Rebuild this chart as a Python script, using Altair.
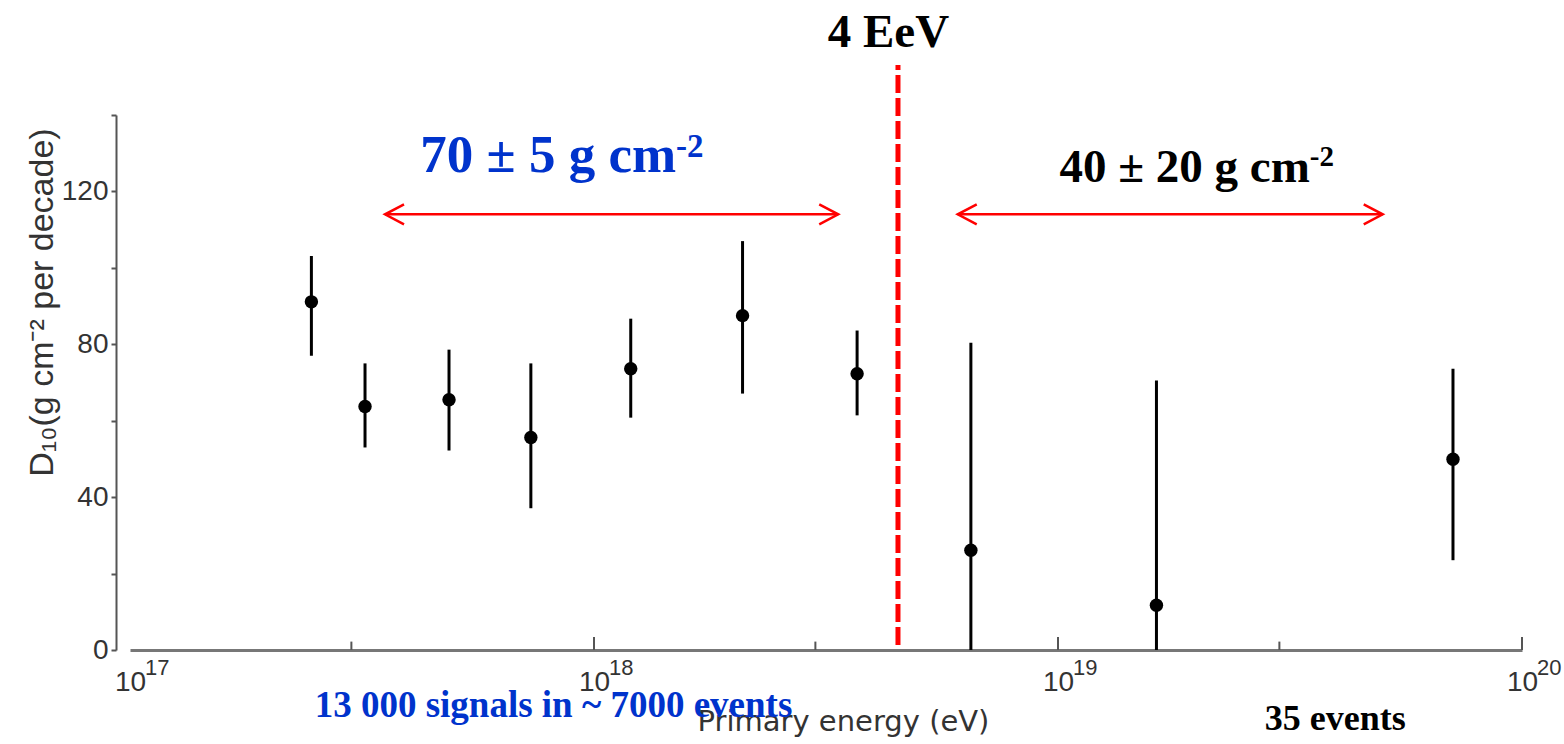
import altair as alt
import pandas as pd

# ---- data ----
energy = [2.46e17, 3.21e17, 4.87e17, 7.31e17, 1.20e18, 2.09e18, 3.69e18, 6.49e18, 1.63e19, 7.10e19]
d10 = [91.1, 63.7, 65.5, 55.6, 73.6, 87.5, 72.3, 26.1, 11.7, 49.9]
d10_lo = [77.0, 53.0, 52.2, 37.1, 60.8, 67.1, 61.4, 0.0, 0.0, 23.5]
d10_hi = [103.1, 75.0, 78.6, 75.0, 86.7, 107.0, 83.6, 80.4, 70.5, 73.6]

decades = [1e17, 1e18, 1e19, 1e20]
exponents = ["17", "18", "19", "20"]
major_ticks = [1e18, 1e19, 1e20]
minor_ticks = [3e17, 3e18, 3e19]
y_ticks = [0, 20, 40, 60, 80, 100, 120, 140]

threshold_energy = [4.52e18]
threshold_label = ["4 EeV"]
range_start = [3.545e17, 6.08e18]
range_end = [3.36e18, 5.01e19]
range_level = [114, 114]

low_text = ["70 ± 5 g cm", "-2"]
high_text = ["40 ± 20 g cm", "-2"]
low_stats = ["13 000 signals in ~ 7000 events"]
high_stats = ["35 events"]

BLUE = "#0033CC"
RED = "#FF0000"
GRAY = "#333333"

xscale = alt.Scale(type="log", domain=[1e17, 1e20], nice=False)
yscale = alt.Scale(domain=[0, 140], nice=False, zero=False)

x_axis = alt.Axis(
    values=decades, labelExpr="'10'", ticks=False, tickSize=0, grid=False,
    domainColor="#777777", domainWidth=3,
    labelFont="Liberation Sans", labelFontSize=28, labelColor=GRAY,
    labelPadding=18, labelBaseline="top", labelFlush=False,
    title="Primary energy (eV)", titleFont="DejaVu Sans", titleFontSize=29,
    titleFontWeight="normal", titleColor=GRAY, titleX=713, titleY=80,
    titleAlign="center", titleBaseline="alphabetic",
)
y_axis = alt.Axis(
    values=y_ticks, labelExpr="datum.value % 40 == 0 ? datum.value : ''",
    grid=False, offset=14, domainColor="#555555", domainWidth=2,
    tickColor="#555555", tickWidth=2, tickSize=5,
    labelFont="Liberation Sans", labelFontSize=28, labelColor=GRAY, labelPadding=3,
    labelFlush=False,
    title="D₁₀(g cm⁻² per decade)", titleFont="Liberation Sans", titleFontSize=34,
    titleFontWeight="normal", titleColor=GRAY, titleAngle=270,
    titleX=-64, titleY=187, titleAlign="center", titleBaseline="alphabetic",
)


def X(f):
    return alt.X(f, type="quantitative", scale=xscale, axis=x_axis)


def Y(f):
    return alt.Y(f, type="quantitative", scale=yscale, axis=y_axis)


df = pd.DataFrame({"energy": energy, "d10": d10, "lo": d10_lo, "hi": d10_hi})

errbars = alt.Chart(df).mark_rule(color="black", strokeWidth=3).encode(
    x=X("energy"), y=Y("lo"), y2="hi:Q",
)
points = alt.Chart(df).mark_circle(size=180, color="black", opacity=1).encode(
    x=X("energy"), y=Y("d10"),
)

tick_df = pd.DataFrame({
    "energy": major_ticks + minor_ticks,
    "lo": [0] * 6,
    "hi": [3.4] * 3 + [2.2] * 3,
})
xticks = alt.Chart(tick_df).mark_rule(color="#555555", strokeWidth=2).encode(
    x=X("energy"), y=Y("lo"), y2="hi:Q",
)

exp_df = pd.DataFrame({"energy": decades, "e": exponents, "lo": [0] * 4})
exps = alt.Chart(exp_df).mark_text(
    font="Liberation Sans", fontSize=22, color=GRAY, align="left",
    baseline="alphabetic", dx=15, dy=25,
).encode(x=X("energy"), y=Y("lo"), text="e:N")

thr_df = pd.DataFrame({"energy": threshold_energy, "lo": [1.3], "hi": [153.1]})
thr_line = alt.Chart(thr_df).mark_rule(color=RED, strokeWidth=5, strokeDash=[18, 5]).encode(
    x=X("energy"), y=Y("lo"), y2="hi:Q",
)
thr_txt_df = pd.DataFrame({"energy": [4.31e18], "lo": [157.8], "t": threshold_label})
thr_txt = alt.Chart(thr_txt_df).mark_text(
    font="Liberation Serif", fontWeight="bold", fontSize=47, color="black",
    align="center", baseline="alphabetic",
).encode(x=X("energy"), y=Y("lo"), text="t:N")

arr_df = pd.DataFrame({"energy": range_start, "x2": range_end, "lo": range_level})
arr_line = alt.Chart(arr_df).mark_rule(color=RED, strokeWidth=2.5).encode(
    x=X("energy"), x2="x2:Q", y=Y("lo"),
)
head_l = alt.Chart(arr_df).mark_point(
    shape="M1.9,-1L0,0L1.9,1", size=400, filled=False, color=RED, strokeWidth=2.5, opacity=1,
).encode(x=X("energy"), y=Y("lo"))
head_r = alt.Chart(arr_df).mark_point(
    shape="M-1.9,-1L0,0L-1.9,1", size=400, filled=False, color=RED, strokeWidth=2.5, opacity=1,
).encode(x=X("x2"), y=Y("lo"))


def label(xv, yv, txt, size, color, align, dy=0):
    d = pd.DataFrame({"energy": [xv], "lo": [yv], "t": [txt]})
    return alt.Chart(d).mark_text(
        font="Liberation Serif", fontWeight="bold", fontSize=size, color=color,
        align=align, baseline="alphabetic", dy=dy,
    ).encode(x=X("energy"), y=Y("lo"), text="t:N")


texts = [
    label(1.503e18, 125.1, low_text[0], 53, BLUE, "right"),
    label(1.503e18, 125.1, low_text[1], 33, BLUE, "left", dy=-15),
    label(3.49e19, 122.5, high_text[0], 47, "black", "right"),
    label(3.49e19, 122.5, high_text[1], 29, "black", "left", dy=-16),
    label(2.5e17, -17.5, low_stats[0], 37, BLUE, "left"),
    label(2.79e19, -20.9, high_stats[0], 36, "black", "left"),
]

chart = alt.layer(
    errbars, points, xticks, exps, thr_line, thr_txt, arr_line, head_l, head_r, *texts
).properties(
    width=1392, height=535,
    autosize=alt.AutoSizeParams(type="none"),
    padding={"left": 130, "top": 115, "right": 42, "bottom": 94},
    background="white",
).configure_view(stroke=None)

chart.save("out.html", embed_options={"renderer": "svg", "actions": False})
